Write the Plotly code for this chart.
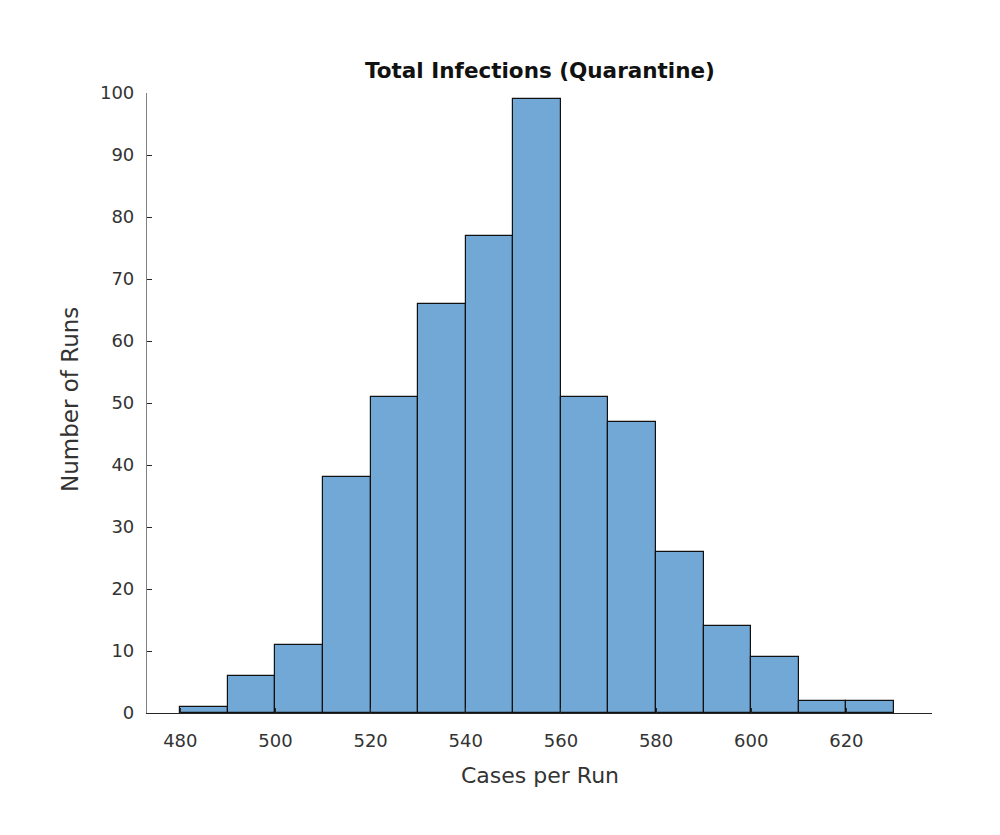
import plotly.graph_objects as go

bin_left = [480, 490, 500, 510, 520, 530, 540, 550, 560, 570, 580, 590, 600, 610, 620]
counts = [1, 6, 11, 38, 51, 66, 77, 99, 51, 47, 26, 14, 9, 2, 2]
bin_width = 10
x_ticks = [480, 500, 520, 540, 560, 580, 600, 620]
y_ticks = [0, 10, 20, 30, 40, 50, 60, 70, 80, 90, 100]

centers = [b + bin_width / 2 for b in bin_left]

fig = go.Figure()
fig.add_trace(go.Bar(
    x=centers, y=counts, width=[bin_width] * len(counts),
    marker=dict(color="#72a8d5", line=dict(color="#111111", width=1.2)),
    showlegend=False,
))

font_fam = "DejaVu Sans, Liberation Sans, sans-serif"
fig.update_layout(
    width=1000, height=835,
    paper_bgcolor="white", plot_bgcolor="white",
    margin=dict(l=139, r=76, t=85, b=130),
    bargap=0,
    font=dict(family=font_fam, size=18, color="#333333"),
    xaxis=dict(range=[473, 638], tickvals=x_ticks, ticktext=[str(v) for v in x_ticks],
               showline=True, linecolor="#262626", linewidth=1.2, ticks="inside",
               ticklen=5, tickcolor="#262626", showgrid=False, zeroline=False,
               ticklabelstandoff=11),
    yaxis=dict(range=[0, 100], tickvals=y_ticks, ticktext=[str(v) for v in y_ticks],
               showline=True, linecolor="#808080", linewidth=1.2, ticks="inside",
               ticklen=5, tickcolor="#262626", showgrid=False, zeroline=False,
               ticklabelstandoff=8),
    annotations=[
        dict(text="<b>Total Infections (Quarantine)</b>", xref="paper", yref="paper",
             x=0.5, y=1.037, xanchor="center", yanchor="middle", showarrow=False,
             font=dict(family=font_fam, size=21.5, color="#111111")),
        dict(text="Cases per Run", xref="paper", yref="paper",
             x=0.5, y=-0.1, xanchor="center", yanchor="middle", showarrow=False,
             font=dict(family=font_fam, size=22, color="#333333")),
        dict(text="Number of Runs", xref="paper", yref="paper", textangle=-90,
             x=-0.098, y=0.505, xanchor="center", yanchor="middle", showarrow=False,
             font=dict(family=font_fam, size=23, color="#333333")),
    ],
)

fig.write_html("out.html")
